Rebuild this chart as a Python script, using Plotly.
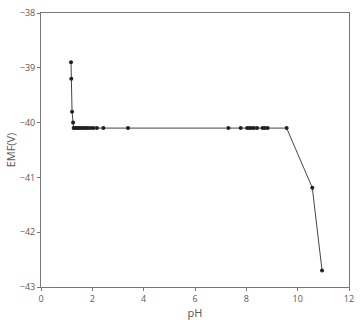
import plotly.graph_objects as go

pH = [1.17, 1.18, 1.21, 1.25, 1.27, 1.32, 1.38, 1.45, 1.52, 1.6, 1.68, 1.76, 1.85, 1.95, 2.05, 2.18, 2.43, 3.39,
      7.3, 7.78, 8.03, 8.12, 8.2, 8.3, 8.42, 8.63, 8.72, 8.83, 9.57, 10.57, 10.95]
EMF = [-38.9, -39.2, -39.8, -40.0, -40.1, -40.1, -40.1, -40.1, -40.1, -40.1, -40.1, -40.1, -40.1, -40.1, -40.1, -40.1, -40.1, -40.1,
       -40.1, -40.1, -40.1, -40.1, -40.1, -40.1, -40.1, -40.1, -40.1, -40.1, -40.1, -41.19, -42.7]

x_ticks = [0, 2, 4, 6, 8, 10, 12]
y_ticks = [-43, -42, -41, -40, -39, -38]

fig = go.Figure(go.Scatter(
    x=pH, y=EMF, mode="lines+markers",
    line=dict(color="#444444", width=1),
    marker=dict(color="#222222", size=4),
    showlegend=False,
))

axis_common = dict(
    showgrid=False, zeroline=False, showline=True, linecolor="#777777", linewidth=1,
    mirror=True, ticks="outside", ticklen=3, tickcolor="#777777",
    tickfont=dict(family="Open Sans", size=9, color="#595959"),
)
fig.update_xaxes(range=[0, 12], tickvals=x_ticks,
                 title=dict(text="pH", font=dict(family="Open Sans", size=11, color="#555555"), standoff=2),
                 **axis_common)
fig.update_yaxes(range=[-43, -38], tickvals=y_ticks,
                 title=dict(text="EMF(V)", font=dict(family="Open Sans", size=11, color="#555555"), standoff=1),
                 **axis_common)

fig.update_layout(
    width=360, height=320,
    margin=dict(l=41, r=6, t=6, b=32),
    paper_bgcolor="white", plot_bgcolor="white",
)
fig.write_html("out.html")
